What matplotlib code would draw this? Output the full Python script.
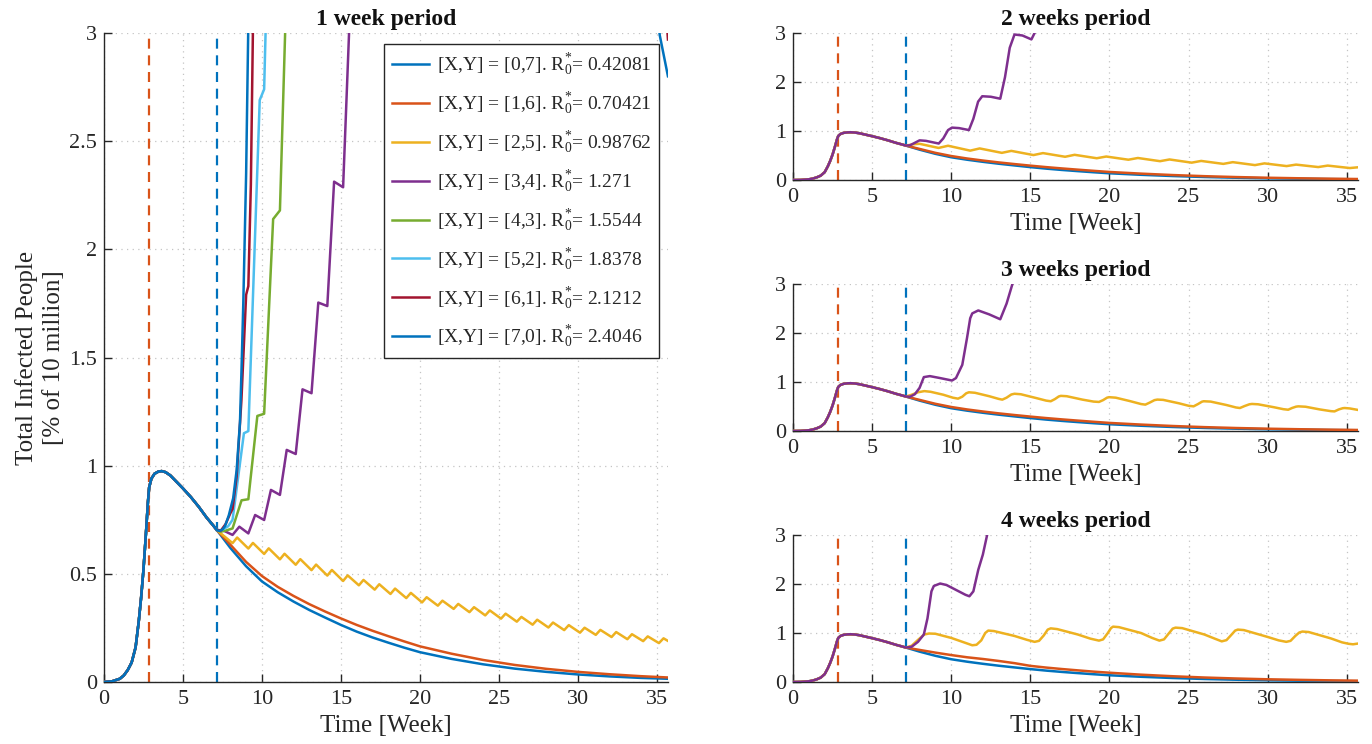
import matplotlib
matplotlib.use("Agg")
import matplotlib.pyplot as plt
from matplotlib.ticker import FormatStrFormatter

plt.rcParams['font.family'] = ['Liberation Serif', 'DejaVu Serif']
plt.rcParams['mathtext.default'] = 'regular'
plt.rcParams['mathtext.fontset'] = 'custom'
plt.rcParams['mathtext.rm'] = 'Liberation Serif'

# ---------------- data (weeks, % of 10 million) ----------------
T_BASE = [0, 0.5, 1.0, 1.25, 1.5, 1.75, 2.0, 2.2, 2.35, 2.5, 2.65, 2.78, 2.86, 3.0, 3.2,
          3.45, 3.65, 3.9, 4.2, 4.6, 5.0, 5.5, 6.0, 6.5, 6.9, 7.14]
V_BASE = [0, 0.003, 0.015, 0.03, 0.055, 0.09, 0.16, 0.28, 0.39, 0.52, 0.68, 0.83, 0.90, 0.94, 0.963,
          0.973, 0.975, 0.97, 0.955, 0.925, 0.895, 0.855, 0.81, 0.76, 0.725, 0.703]

EVENT_WEEKS = [2.857, 7.143]          # lockdown start, partial reopening

# [0,7] : permanent lockdown (same in every period)
T_DECAY = [7.14, 8, 9, 10, 11, 12, 13, 14, 15, 16, 17, 18, 19, 20, 22, 24, 26, 28, 30, 32, 34, 35.71]
V_07 = [0.703, 0.62, 0.535, 0.465, 0.415, 0.372, 0.333, 0.298, 0.264, 0.233, 0.206, 0.182, 0.159,
        0.138, 0.107, 0.082, 0.062, 0.047, 0.035, 0.026, 0.019, 0.015]
V_16 = [0.703, 0.635, 0.555, 0.49, 0.44, 0.398, 0.36, 0.326, 0.294, 0.264, 0.237, 0.212, 0.188,
        0.165, 0.131, 0.102, 0.079, 0.061, 0.047, 0.036, 0.027, 0.021]

# 1 week period
T_Y1 = [7.14, 7.43, 8.14, 8.43, 9.14, 9.43, 10.14, 10.43, 11.14, 11.43, 12.14, 12.43, 13.14, 13.43,
        14.14, 14.43, 15.14, 15.43, 16.14, 16.43, 17.14, 17.43, 18.14, 18.43, 19.14, 19.43, 20.14,
        20.43, 21.14, 21.43, 22.14, 22.43, 23.14, 23.43, 24.14, 24.43, 25.14, 25.43, 26.14, 26.43,
        27.14, 27.43, 28.14, 28.43, 29.14, 29.43, 30.14, 30.43, 31.14, 31.43, 32.14, 32.43, 33.14,
        33.43, 34.14, 34.43, 35.14, 35.43, 35.71]
V_Y1 = [0.703, 0.685, 0.642, 0.668, 0.617, 0.643, 0.592, 0.618, 0.567, 0.593, 0.542, 0.568, 0.517,
        0.543, 0.492, 0.518, 0.467, 0.493, 0.447, 0.472, 0.427, 0.452, 0.407, 0.432, 0.388, 0.412,
        0.368, 0.392, 0.353, 0.376, 0.338, 0.361, 0.323, 0.346, 0.308, 0.331, 0.293, 0.316, 0.279,
        0.301, 0.265, 0.288, 0.252, 0.275, 0.240, 0.263, 0.228, 0.251, 0.218, 0.241, 0.208, 0.231,
        0.198, 0.221, 0.189, 0.211, 0.180, 0.202, 0.190]
T_P1 = [7.14, 7.57, 8.14, 8.57, 9.14, 9.57, 10.14, 10.57, 11.14, 11.57, 12.14, 12.57, 13.14, 13.57,
        14.14, 14.57, 15.14, 15.57, 16.0]
V_P1 = [0.703, 0.70, 0.68, 0.718, 0.687, 0.772, 0.749, 0.888, 0.865, 1.073, 1.054, 1.353, 1.335,
        1.754, 1.738, 2.313, 2.287, 3.1, 4.0]
T_G1 = [7.14, 7.4, 7.71, 8.14, 8.71, 9.14, 9.71, 10.14, 10.71, 11.14, 11.71]
V_G1 = [0.703, 0.695, 0.70, 0.71, 0.84, 0.845, 1.23, 1.24, 2.14, 2.18, 3.6]
T_C1 = [7.14, 7.4, 7.86, 8.14, 8.86, 9.14, 9.86, 10.14, 10.3]
V_C1 = [0.703, 0.70, 0.72, 0.75, 1.15, 1.16, 2.69, 2.74, 3.2]
T_R1 = [7.14, 7.4, 7.7, 8.0, 8.14, 8.4, 8.7, 9.0, 9.14, 9.3, 9.7, 35.4, 35.71]
V_R1 = [0.703, 0.70, 0.73, 0.78, 0.80, 0.95, 1.3, 1.79, 1.83, 2.3, 4.5, 3.3, 2.97]
T_B1 = [7.14, 7.3, 7.5, 7.66, 7.9, 8.18, 8.4, 8.61, 8.71, 8.82, 9.0, 9.13, 9.4, 34.6, 35.19, 35.71]
V_B1 = [0.703, 0.698, 0.705, 0.72, 0.77, 0.85, 0.98, 1.2, 1.45, 1.75, 2.35, 3.0, 4.5, 3.4, 2.99, 2.80]

# 2 weeks period
T_Y2 = [7.14, 7.6, 8.0, 9.2, 9.8, 11.2, 11.8, 13.2, 13.8, 15.2, 15.8, 17.2, 17.8, 19.2, 19.8, 21.2,
        21.8, 23.2, 23.8, 25.2, 25.8, 27.2, 27.8, 29.2, 29.8, 31.2, 31.8, 33.2, 33.8, 35.2, 35.71]
V_Y2 = [0.703, 0.73, 0.74, 0.655, 0.70, 0.60, 0.645, 0.555, 0.595, 0.51, 0.55, 0.475, 0.515, 0.445,
        0.48, 0.415, 0.45, 0.385, 0.42, 0.355, 0.39, 0.33, 0.365, 0.305, 0.34, 0.285, 0.315, 0.265,
        0.295, 0.245, 0.26]
T_P2 = [7.14, 7.4, 7.7, 8.0, 8.4, 9.21, 9.5, 9.8, 10.05, 10.5, 11.12, 11.4, 11.7, 11.96, 12.5, 13.1,
        13.4, 13.7, 14.0, 14.5, 15.07, 15.27, 15.5]
V_P2 = [0.703, 0.71, 0.76, 0.81, 0.80, 0.745, 0.85, 1.02, 1.07, 1.06, 1.02, 1.25, 1.6, 1.71, 1.70,
        1.66, 2.1, 2.7, 2.97, 2.95, 2.87, 3.0, 3.4]

# 3 weeks period
T_Y3 = [7.14, 7.5, 7.9, 8.3, 8.7, 9.5, 10.1, 10.43, 10.7, 10.95, 11.12, 11.5, 12.4, 13.0, 13.23,
        13.5, 13.8, 14.0, 14.4, 15.4, 16.0, 16.29, 16.55, 16.8, 16.93, 17.3, 18.3, 19.0, 19.34, 19.6,
        19.85, 19.98, 20.4, 21.3, 22.0, 22.27, 22.55, 22.85, 23.03, 23.4, 24.4, 25.0, 25.32, 25.6,
        25.85, 25.96, 26.4, 27.4, 28.0, 28.25, 28.55, 28.85, 29.01, 29.4, 30.4, 31.0, 31.3, 31.55,
        31.8, 31.94, 32.4, 33.3, 34.0, 34.23, 34.5, 34.75, 34.87, 35.2, 35.71]
V_Y3 = [0.703, 0.74, 0.79, 0.814, 0.80, 0.74, 0.68, 0.66, 0.70, 0.77, 0.79, 0.78, 0.71, 0.655, 0.64,
        0.68, 0.745, 0.76, 0.75, 0.67, 0.62, 0.607, 0.65, 0.705, 0.717, 0.71, 0.64, 0.60, 0.593, 0.63,
        0.68, 0.69, 0.68, 0.61, 0.55, 0.538, 0.58, 0.63, 0.641, 0.635, 0.565, 0.515, 0.503, 0.55,
        0.598, 0.607, 0.60, 0.53, 0.48, 0.469, 0.51, 0.545, 0.552, 0.545, 0.485, 0.445, 0.434, 0.47,
        0.497, 0.503, 0.495, 0.44, 0.405, 0.40, 0.44, 0.465, 0.469, 0.46, 0.43]
T_P3 = [7.14, 7.4, 7.7, 8.0, 8.27, 8.65, 9.3, 10.05, 10.3, 10.7, 11.0, 11.2, 11.33, 11.71, 12.4,
        13.1, 13.5, 13.87, 14.1]
V_P3 = [0.703, 0.70, 0.75, 0.88, 1.10, 1.12, 1.08, 1.03, 1.08, 1.35, 1.9, 2.3, 2.4, 2.46, 2.38,
        2.28, 2.6, 3.0, 3.4]

# 4 weeks period
V_16_4W = [0.703, 0.655, 0.60, 0.55, 0.505, 0.47, 0.43, 0.385, 0.33, 0.295, 0.265, 0.238, 0.212,
           0.19, 0.15, 0.118, 0.092, 0.072, 0.056, 0.044, 0.034, 0.028]
T_Y4 = [7.14, 7.5, 7.9, 8.3, 8.6, 9.0, 10.0, 10.8, 11.33, 11.6, 11.9, 12.15, 12.34, 12.7, 14.0,
        14.8, 15.27, 15.55, 15.85, 16.1, 16.29, 16.7, 18.0, 18.8, 19.34, 19.6, 19.9, 20.1, 20.23,
        20.6, 22.0, 22.7, 23.16, 23.45, 23.75, 24.0, 24.18, 24.6, 26.0, 26.7, 27.1, 27.4, 27.7,
        27.95, 28.12, 28.5, 30.0, 30.7, 31.18, 31.45, 31.75, 32.0, 32.2, 32.6, 34.0, 34.7, 35.12,
        35.4, 35.71]
V_Y4 = [0.703, 0.74, 0.86, 0.97, 0.99, 0.985, 0.90, 0.81, 0.75, 0.76, 0.85, 1.0, 1.05, 1.04, 0.94,
        0.86, 0.82, 0.84, 0.95, 1.07, 1.095, 1.08, 0.97, 0.885, 0.845, 0.87, 1.0, 1.1, 1.13, 1.12,
        1.0, 0.9, 0.845, 0.87, 0.99, 1.09, 1.11, 1.10, 0.97, 0.88, 0.83, 0.855, 0.96, 1.05, 1.07,
        1.06, 0.92, 0.85, 0.82, 0.84, 0.94, 1.01, 1.03, 1.02, 0.89, 0.81, 0.78, 0.77, 0.785]
T_P4 = [7.14, 7.5, 7.9, 8.27, 8.5, 8.75, 8.9, 9.3, 9.7, 10.3, 10.9, 11.15, 11.4, 11.71, 12.0, 12.27,
        12.5]
V_P4 = [0.703, 0.72, 0.82, 0.97, 1.3, 1.85, 1.96, 2.01, 1.98, 1.88, 1.78, 1.75, 1.85, 2.29, 2.6,
        3.0, 3.4]

LABELS = ['[X,Y] = [0,7]. R$^{*}_{0}$= 0.42081', '[X,Y] = [1,6]. R$^{*}_{0}$= 0.70421',
          '[X,Y] = [2,5]. R$^{*}_{0}$= 0.98762', '[X,Y] = [3,4]. R$^{*}_{0}$= 1.271',
          '[X,Y] = [4,3]. R$^{*}_{0}$= 1.5544', '[X,Y] = [5,2]. R$^{*}_{0}$= 1.8378',
          '[X,Y] = [6,1]. R$^{*}_{0}$= 2.1212', '[X,Y] = [7,0]. R$^{*}_{0}$= 2.4046']
COLORS = ['#0072BD', '#D95319', '#EDB120', '#7E2F8E', '#77AC30', '#4DBEEE', '#A2142F', '#0072BD']
TITLES = ['1 week period', '2 weeks period', '3 weeks period', '4 weeks period']

# ---------------- figure ----------------
TXT = '#262626'
fig = plt.figure(figsize=(13.72, 7.44), dpi=100)
ax_main = fig.add_axes([0.0758, 0.0833, 0.4111, 0.8723])
ax_r = [fig.add_axes([0.578, b, 0.4118, 0.1976]) for b in (0.758, 0.4207, 0.0833)]

LW = 1.8


def style(ax, yticks, title):
    ax.set_xlim(0, 250 / 7)
    ax.set_ylim(0, 3)
    ax.set_xticks([0, 5, 10, 15, 20, 25, 30, 35])
    ax.set_yticks(yticks)
    ax.yaxis.set_major_formatter(FormatStrFormatter('%g'))
    ax.grid(True, linestyle=(0, (1, 3.5)), color='#c4c4c4', lw=0.9)
    ax.set_axisbelow(True)
    for s in ('top', 'right'):
        ax.spines[s].set_visible(False)
    for s in ('left', 'bottom'):
        ax.spines[s].set_color(TXT)
        ax.spines[s].set_linewidth(1.0)
    ax.tick_params(direction='in', length=6, width=1, colors=TXT, labelsize=16)
    ax.tick_params(axis='x', pad=6)
    ax.tick_params(axis='y', pad=5)
    ax.set_xlabel('Time [Week]', fontsize=18, color=TXT, labelpad=4)
    ax.set_title(title, fontsize=17, fontweight='bold', color='#111111', pad=6)
    for w, c in zip(EVENT_WEEKS, ['#D95319', '#0072BD']):
        ax.axvline(w, color=c, lw=1.6, linestyle=(0, (4.5, 3)), zorder=1)


def with_base(t, v):
    return T_BASE[:-1] + t, V_BASE[:-1] + v


# main panel
series_1w = [(T_DECAY, V_07), (T_DECAY, V_16), (T_Y1, V_Y1), (T_P1, V_P1), (T_G1, V_G1),
             (T_C1, V_C1), (T_R1, V_R1), (T_B1, V_B1)]
handles = []
for (t, v), c, lab in zip(series_1w, COLORS, LABELS):
    tt, vv = with_base(t, v)
    h, = ax_main.plot(tt, vv, color=c, lw=LW, label=lab, zorder=3)
    handles.append(h)
style(ax_main, [0, 0.5, 1, 1.5, 2, 2.5, 3], TITLES[0])
ax_main.set_ylabel('Total Infected People\n[% of 10 million]', fontsize=18, color=TXT,
                   labelpad=3, linespacing=1.3)
leg = ax_main.legend(handles=handles, loc='upper right', bbox_to_anchor=(0.984, 0.983),
                     fontsize=14, frameon=True, fancybox=False, edgecolor=TXT, framealpha=1,
                     handlelength=1.9, handletextpad=0.4, labelspacing=0.64, borderpad=0.4,
                     borderaxespad=0)
leg.get_frame().set_linewidth(1.0)
for tx in leg.get_texts():
    tx.set_color(TXT)

# right panels
right_series = [
    [(T_DECAY, V_07), (T_DECAY, V_16), (T_Y2, V_Y2), (T_P2, V_P2)],
    [(T_DECAY, V_07), (T_DECAY, V_16), (T_Y3, V_Y3), (T_P3, V_P3)],
    [(T_DECAY, V_07), (T_DECAY, V_16_4W), (T_Y4, V_Y4), (T_P4, V_P4)],
]
for ax, ser, title in zip(ax_r, right_series, TITLES[1:]):
    for (t, v), c in zip(ser, COLORS[:4]):
        tt, vv = with_base(t, v)
        ax.plot(tt, vv, color=c, lw=LW, zorder=3)
    style(ax, [0, 1, 2, 3], title)

fig.savefig('out.png', dpi=100)
